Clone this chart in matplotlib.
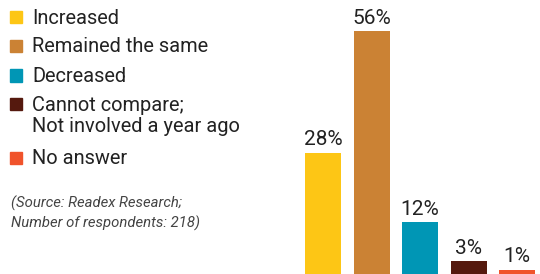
import matplotlib
matplotlib.use("Agg")
import matplotlib.pyplot as plt
from matplotlib.patches import Rectangle

plt.rcParams['font.family'] = ['Roboto', 'DejaVu Sans']

categories = ["Increased", "Remained the same", "Decreased",
              "Cannot compare;\nNot involved a year ago", "No answer"]
values = [28, 56, 12, 3, 1]
labels = ["28%", "56%", "12%", "3%", "1%"]
colors = ["#FDC615", "#CB8234", "#0096B5", "#55190E", "#F0532B"]
source_text = "(Source: Readex Research;\nNumber of respondents: 218)"

W, H = 540, 274
fig = plt.figure(figsize=(W / 100, H / 100), dpi=100)

# Bar axes
ax_left = 299
ax = fig.add_axes([ax_left / W, 0, (W - ax_left) / W, 1])
unit = 48.5
ax.set_xlim(-(323 - ax_left) / unit, 4 + (W - 517) / unit)
ax.set_ylim(0, 56 * H / 243)
x = range(len(values))
ax.bar(x, values, width=36 / unit, color=colors)
for xi, v, lab in zip(x, values, labels):
    ax.annotate(lab, (xi, v), xytext=(0, 5.2), textcoords='offset points',
                ha='center', va='baseline', fontsize=15, color='#222222')
ax.axis('off')

# Legend (manual)
baselines = [23.5, 52.5, 82, 111, 164]
for cat, col, b in zip(categories, colors, baselines):
    fig.patches.append(Rectangle((10 / W, 1 - (b - 0.5) / H), 12 / W, 12 / H,
                                 transform=fig.transFigure, color=col))
    lines = cat.split("\n")
    for i, line in enumerate(lines):
        fig.text(32 / W, 1 - (b + i * 21) / H, line, ha='left', va='baseline',
                 fontsize=14.4, color='#222222')

src_lines = source_text.split("\n")
for i, line in enumerate(src_lines):
    fig.text(11 / W, 1 - (208 + i * 20) / H, line, ha='left', va='baseline',
             fontsize=10.7, style='italic', color='#444444')

fig.savefig("out.png", dpi=100)
